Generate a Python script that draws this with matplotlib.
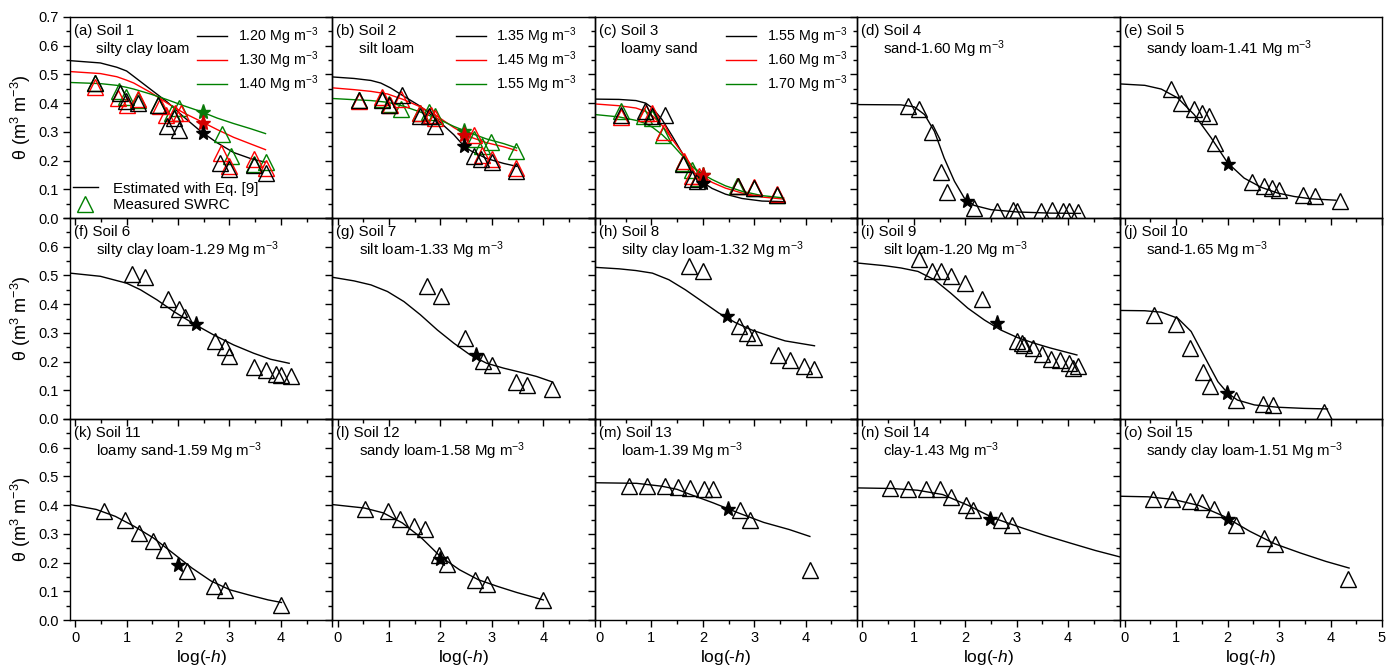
import matplotlib
matplotlib.use("Agg")
import matplotlib.pyplot as plt
from matplotlib.ticker import MultipleLocator, FixedLocator, FixedFormatter
from matplotlib.lines import Line2D

plt.rcParams['font.family'] = ['Liberation Sans', 'DejaVu Sans']
plt.rcParams['mathtext.fontset'] = 'custom'
plt.rcParams['mathtext.rm'] = 'Liberation Sans'
plt.rcParams['mathtext.it'] = 'Liberation Sans:italic'
plt.rcParams['mathtext.bf'] = 'Liberation Sans:bold'

# ---------------- Data ----------------
# Soil 1 (three bulk densities)
s1_cx = [-0.1, 0.49, 0.81, 1.0, 1.14, 1.46, 1.79, 2.11, 2.44, 2.76, 3.08, 3.41, 3.70]
s1_c120 = [0.548, 0.54, 0.525, 0.512, 0.493, 0.449, 0.404, 0.352, 0.302, 0.262, 0.228, 0.207, 0.194]
s1_c130 = [0.51, 0.503, 0.492, 0.48, 0.47, 0.438, 0.40, 0.366, 0.337, 0.308, 0.281, 0.258, 0.238]
s1_c140 = [0.472, 0.468, 0.462, 0.455, 0.449, 0.432, 0.412, 0.391, 0.371, 0.348, 0.329, 0.311, 0.294]
s1_mx_120 = [0.39, 0.88, 0.99, 1.23, 1.62, 1.79, 1.92, 2.01, 2.82, 2.99, 3.47, 3.71]
s1_my_120 = [0.47, 0.435, 0.406, 0.40, 0.395, 0.32, 0.348, 0.305, 0.19, 0.17, 0.186, 0.155]
s1_mx_130 = [0.39, 0.84, 1.0, 1.23, 1.64, 1.77, 1.95, 2.05, 2.84, 3.0, 3.47, 3.71]
s1_my_130 = [0.456, 0.418, 0.395, 0.414, 0.39, 0.36, 0.366, 0.366, 0.226, 0.18, 0.205, 0.174]
s1_mx_140 = [0.39, 0.86, 0.99, 1.23, 1.62, 1.88, 2.01, 2.86, 3.02, 3.47, 3.71]
s1_my_140 = [0.47, 0.441, 0.421, 0.412, 0.395, 0.366, 0.383, 0.294, 0.215, 0.189, 0.195]
s1_star_x = [2.48, 2.48, 2.48]
s1_star_y = [0.296, 0.331, 0.369]

# Soil 2
s2_cx_135 = [-0.08, 0.32, 0.65, 0.84, 1.03, 1.29, 1.61, 1.94, 2.26, 2.45, 2.58, 2.90, 3.23, 3.48]
s2_c135 = [0.491, 0.486, 0.479, 0.47, 0.453, 0.424, 0.389, 0.342, 0.29, 0.252, 0.235, 0.207, 0.19, 0.18]
s2_cx = [-0.08, 0.32, 0.65, 0.97, 1.29, 1.61, 1.94, 2.26, 2.58, 2.90, 3.23, 3.48]
s2_c145 = [0.453, 0.447, 0.441, 0.432, 0.412, 0.387, 0.354, 0.315, 0.282, 0.262, 0.248, 0.235]
s2_c155 = [0.416, 0.412, 0.409, 0.403, 0.389, 0.369, 0.346, 0.319, 0.296, 0.275, 0.259, 0.244]
s2_mx_135 = [0.41, 0.87, 1.0, 1.25, 1.61, 1.77, 1.9, 2.66, 2.79, 3.0, 3.47]
s2_my_135 = [0.412, 0.412, 0.395, 0.43, 0.354, 0.354, 0.32, 0.215, 0.205, 0.194, 0.163]
s2_mx_145 = [0.41, 0.86, 1.02, 1.23, 1.6, 1.81, 1.9, 2.66, 2.81, 3.0, 3.47]
s2_my_145 = [0.406, 0.421, 0.395, 0.414, 0.366, 0.36, 0.348, 0.29, 0.22, 0.205, 0.174]
s2_mx_155 = [0.41, 0.87, 1.0, 1.23, 1.61, 1.77, 1.9, 2.66, 2.81, 2.99, 3.47]
s2_my_155 = [0.41, 0.414, 0.398, 0.38, 0.366, 0.368, 0.356, 0.275, 0.25, 0.264, 0.235]
s2_star_x = [2.46, 2.46, 2.46]
s2_star_y = [0.252, 0.29, 0.302]

# Soil 3
s3_cx = [-0.08, 0.37, 0.70, 0.89, 1.02, 1.21, 1.41, 1.60, 1.79, 1.99, 2.18, 2.44, 2.76, 3.15, 3.57]
s3_c155 = [0.414, 0.413, 0.409, 0.40, 0.383, 0.342, 0.284, 0.226, 0.168, 0.125, 0.103, 0.083, 0.068, 0.059, 0.057]
s3_c160 = [0.397, 0.391, 0.383, 0.371, 0.356, 0.322, 0.273, 0.226, 0.18, 0.147, 0.124, 0.104, 0.087, 0.073, 0.066]
s3_c170 = [0.36, 0.352, 0.34, 0.329, 0.316, 0.29, 0.255, 0.217, 0.18, 0.153, 0.134, 0.112, 0.093, 0.078, 0.07]
s3_mx_155 = [0.41, 0.88, 1.01, 1.26, 1.62, 1.78, 1.89, 2.68, 3.0, 3.44]
s3_my_155 = [0.36, 0.371, 0.356, 0.36, 0.189, 0.136, 0.128, 0.11, 0.104, 0.081]
s3_mx_160 = [0.41, 0.89, 1.02, 1.25, 1.63, 1.79, 1.92, 2.68, 3.0, 3.44]
s3_my_160 = [0.352, 0.366, 0.366, 0.298, 0.197, 0.145, 0.147, 0.113, 0.107, 0.084]
s3_mx_170 = [0.41, 0.86, 1.01, 1.23, 1.62, 1.78, 1.91, 2.66, 2.99, 3.44]
s3_my_170 = [0.371, 0.354, 0.348, 0.29, 0.192, 0.168, 0.139, 0.11, 0.104, 0.081]
s3_star_x = [2.0, 2.0, 2.0]
s3_star_y = [0.122, 0.149, 0.15]

# Soil 4
s4_cx = [-0.1, 0.75, 1.01, 1.21, 1.40, 1.59, 1.79, 1.98, 2.17, 2.50, 3.01, 3.66, 4.24]
s4_cy = [0.395, 0.394, 0.387, 0.36, 0.302, 0.209, 0.128, 0.07, 0.044, 0.029, 0.021, 0.017, 0.016]
s4_mx = [0.88, 1.11, 1.35, 1.52, 1.65, 2.17, 2.61, 2.92, 3.01, 3.48, 3.69, 3.9, 4.01, 4.19]
s4_my = [0.389, 0.38, 0.298, 0.159, 0.089, 0.035, 0.026, 0.027, 0.026, 0.026, 0.027, 0.023, 0.023, 0.02]
s4_star = (2.03, 0.058)

# Soil 5
s5_cx = [-0.1, 0.39, 0.71, 1.03, 1.35, 1.68, 2.0, 2.32, 2.65, 2.97, 3.29, 3.61, 4.1]
s5_cy = [0.467, 0.462, 0.449, 0.418, 0.36, 0.279, 0.192, 0.139, 0.107, 0.087, 0.075, 0.067, 0.062]
s5_mx = [0.89, 1.1, 1.35, 1.5, 1.63, 1.75, 2.48, 2.71, 2.87, 3.0, 3.47, 3.69, 4.18]
s5_my = [0.449, 0.40, 0.38, 0.366, 0.354, 0.261, 0.124, 0.113, 0.104, 0.099, 0.081, 0.075, 0.058]
s5_star = (2.01, 0.189)

# Soil 6
s6_cx = [-0.1, 0.49, 1.0, 1.27, 1.59, 1.92, 2.31, 2.69, 3.08, 3.47, 3.8, 4.16]
s6_cy = [0.508, 0.497, 0.473, 0.45, 0.415, 0.374, 0.331, 0.293, 0.258, 0.229, 0.208, 0.194]
s6_mx = [1.1, 1.35, 1.81, 2.01, 2.14, 2.71, 2.92, 3.0, 3.47, 3.7, 3.9, 4.01, 4.19]
s6_my = [0.506, 0.494, 0.417, 0.383, 0.355, 0.273, 0.252, 0.22, 0.18, 0.169, 0.157, 0.153, 0.15]
s6_star = (2.34, 0.331)

# Soil 7
s7_cx = [-0.08, 0.32, 0.65, 0.97, 1.29, 1.61, 1.94, 2.26, 2.58, 2.9, 3.23, 3.55, 3.87, 4.16]
s7_cy = [0.493, 0.481, 0.467, 0.444, 0.409, 0.363, 0.31, 0.264, 0.223, 0.194, 0.177, 0.163, 0.148, 0.13]
s7_mx = [1.73, 2.02, 2.47, 2.83, 3.0, 3.47, 3.69, 4.17]
s7_my = [0.464, 0.427, 0.281, 0.202, 0.188, 0.13, 0.119, 0.105]
s7_star = (2.7, 0.223)

# Soil 8
s8_cx = [-0.08, 0.37, 0.7, 1.02, 1.34, 1.66, 1.99, 2.31, 2.63, 2.95, 3.28, 3.6, 4.17]
s8_cy = [0.528, 0.523, 0.517, 0.508, 0.485, 0.45, 0.409, 0.369, 0.336, 0.31, 0.29, 0.272, 0.255]
s8_mx = [1.73, 2.01, 2.7, 2.85, 3.0, 3.47, 3.7, 3.97, 4.17]
s8_my = [0.534, 0.514, 0.324, 0.301, 0.287, 0.223, 0.206, 0.186, 0.173]
s8_star = (2.47, 0.357)

# Soil 9
s9_cx = [-0.08, 0.43, 0.75, 1.08, 1.4, 1.72, 2.05, 2.37, 2.69, 3.01, 3.34, 3.66, 4.17]
s9_cy = [0.543, 0.534, 0.526, 0.514, 0.485, 0.438, 0.386, 0.345, 0.31, 0.284, 0.264, 0.247, 0.223]
s9_mx = [1.11, 1.35, 1.52, 1.72, 2.0, 2.32, 3.01, 3.11, 3.14, 3.32, 3.5, 3.67, 3.85, 4.01, 4.1, 4.19]
s9_my = [0.557, 0.517, 0.517, 0.497, 0.473, 0.417, 0.273, 0.264, 0.258, 0.249, 0.227, 0.208, 0.206, 0.194, 0.177, 0.185]
s9_star = (2.61, 0.336)

# Soil 10
s10_cx = [-0.08, 0.39, 0.71, 1.03, 1.29, 1.55, 1.81, 2.0, 2.19, 2.52, 2.97, 3.48, 3.94]
s10_cy = [0.378, 0.377, 0.372, 0.351, 0.305, 0.217, 0.13, 0.09, 0.066, 0.049, 0.041, 0.037, 0.035]
s10_mx = [0.56, 1.0, 1.27, 1.52, 1.66, 2.16, 2.68, 2.88, 3.87]
s10_my = [0.363, 0.331, 0.249, 0.163, 0.115, 0.066, 0.051, 0.049, 0.026]
s10_star = (1.99, 0.09)

# Soil 11
s11_cx = [-0.1, 0.41, 0.78, 1.15, 1.52, 1.9, 2.27, 2.64, 3.01, 3.38, 3.75, 4.01]
s11_cy = [0.402, 0.385, 0.361, 0.326, 0.286, 0.233, 0.181, 0.136, 0.105, 0.087, 0.07, 0.061]
s11_mx = [0.56, 0.97, 1.24, 1.52, 1.73, 2.18, 2.7, 2.92, 4.01]
s11_my = [0.379, 0.35, 0.303, 0.274, 0.245, 0.172, 0.119, 0.105, 0.052]
s11_star = (1.99, 0.192)

# Soil 12
s12_cx = [-0.1, 0.52, 0.89, 1.26, 1.63, 2.0, 2.37, 2.74, 3.11, 3.48, 4.0]
s12_cy = [0.402, 0.39, 0.373, 0.338, 0.286, 0.221, 0.175, 0.14, 0.117, 0.096, 0.07]
s12_mx = [0.53, 0.98, 1.22, 1.48, 1.7, 1.98, 2.13, 2.67, 2.9, 4.0]
s12_my = [0.387, 0.379, 0.352, 0.329, 0.317, 0.227, 0.196, 0.14, 0.126, 0.07]
s12_star = (2.0, 0.212)

# Soil 13
s13_cx = [-0.1, 0.71, 1.2, 1.5, 1.7, 2.2, 2.69, 3.18, 3.68, 4.08]
s13_cy = [0.478, 0.476, 0.466, 0.455, 0.441, 0.408, 0.373, 0.34, 0.315, 0.291]
s13_mx = [0.56, 0.91, 1.26, 1.52, 1.75, 2.02, 2.2, 2.72, 2.91, 4.08]
s13_my = [0.466, 0.466, 0.466, 0.463, 0.46, 0.457, 0.455, 0.382, 0.35, 0.175]
s13_star = (2.49, 0.387)

# Soil 14
s14_cx = [-0.1, 0.57, 1.07, 1.56, 2.06, 2.55, 3.05, 3.54, 4.04, 4.53, 5.0]
s14_cy = [0.46, 0.458, 0.452, 0.437, 0.399, 0.355, 0.324, 0.295, 0.268, 0.242, 0.22]
s14_mx = [0.54, 0.89, 1.24, 1.51, 1.73, 2.01, 2.16, 2.7, 2.9]
s14_my = [0.46, 0.457, 0.457, 0.455, 0.428, 0.402, 0.382, 0.35, 0.332]
s14_star = (2.49, 0.353)

# Soil 15
s15_cx = [-0.1, 0.45, 0.94, 1.44, 1.93, 2.43, 2.92, 3.42, 3.91, 4.36]
s15_cy = [0.431, 0.429, 0.42, 0.399, 0.361, 0.309, 0.265, 0.233, 0.204, 0.181]
s15_mx = [0.54, 0.91, 1.26, 1.51, 1.73, 2.16, 2.7, 2.92, 4.34]
s15_my = [0.422, 0.42, 0.416, 0.41, 0.385, 0.332, 0.286, 0.265, 0.142]
s15_star = (2.0, 0.353)

panel_letters = list("abcdefghijklmno")
soil_textures = ["silty clay loam", "silt loam", "loamy sand", "sand", "sandy loam",
                 "silty clay loam", "silt loam", "silty clay loam", "silt loam", "sand",
                 "loamy sand", "sandy loam", "loam", "clay", "sandy clay loam"]
soil_densities = [None, None, None, "1.60", "1.41", "1.29", "1.33", "1.32", "1.20", "1.65",
                  "1.59", "1.58", "1.39", "1.43", "1.51"]
multi_density_labels = [["1.20", "1.30", "1.40"], ["1.35", "1.45", "1.55"], ["1.55", "1.60", "1.70"]]
x_ticks = [0, 1, 2, 3, 4, 5]
y_ticks = [0.0, 0.1, 0.2, 0.3, 0.4, 0.5, 0.6, 0.7]

single_curves = [(s4_cx, s4_cy, s4_mx, s4_my, s4_star), (s5_cx, s5_cy, s5_mx, s5_my, s5_star),
                 (s6_cx, s6_cy, s6_mx, s6_my, s6_star), (s7_cx, s7_cy, s7_mx, s7_my, s7_star),
                 (s8_cx, s8_cy, s8_mx, s8_my, s8_star), (s9_cx, s9_cy, s9_mx, s9_my, s9_star),
                 (s10_cx, s10_cy, s10_mx, s10_my, s10_star), (s11_cx, s11_cy, s11_mx, s11_my, s11_star),
                 (s12_cx, s12_cy, s12_mx, s12_my, s12_star), (s13_cx, s13_cy, s13_mx, s13_my, s13_star),
                 (s14_cx, s14_cy, s14_mx, s14_my, s14_star), (s15_cx, s15_cy, s15_mx, s15_my, s15_star)]

multi_sets = [
    [(s1_cx, s1_c120, s1_mx_120, s1_my_120), (s1_cx, s1_c130, s1_mx_130, s1_my_130), (s1_cx, s1_c140, s1_mx_140, s1_my_140)],
    [(s2_cx_135, s2_c135, s2_mx_135, s2_my_135), (s2_cx, s2_c145, s2_mx_145, s2_my_145), (s2_cx, s2_c155, s2_mx_155, s2_my_155)],
    [(s3_cx, s3_c155, s3_mx_155, s3_my_155), (s3_cx, s3_c160, s3_mx_160, s3_my_160), (s3_cx, s3_c170, s3_mx_170, s3_my_170)],
]
multi_stars = [(s1_star_x, s1_star_y), (s2_star_x, s2_star_y), (s3_star_x, s3_star_y)]

# ---------------- Style ----------------
W, H = 1386, 665
fig = plt.figure(figsize=(W / 100, H / 100), dpi=100)
left_px, right_px = 70, 1382
top_px, row_h = 17, 201
col_w = (right_px - left_px) / 5
line_colors = ['black', '#ff0000', '#008000']
star_colors = ['black', '#d40000', '#0a7a0a']
TRI_MS = 11.5
STAR_MS = 11
FS = 10.8
LEG_FS = 10.3
TICK_FS = 10.5
legend_anchor_x = [0.485, 0.47, 0.50]

for idx in range(15):
    r, c = divmod(idx, 5)
    ax = fig.add_axes([(left_px + c * col_w) / W, 1 - (top_px + (r + 1) * row_h) / H,
                       col_w / W, row_h / H])
    ax.set_facecolor('none')
    ax.set_xlim(-0.1, 5.0)
    ax.set_ylim(0.0, 0.7)
    ax.xaxis.set_major_locator(FixedLocator(x_ticks))
    ax.xaxis.set_minor_locator(MultipleLocator(0.5))
    ax.yaxis.set_major_locator(FixedLocator(y_ticks))
    ax.yaxis.set_minor_locator(MultipleLocator(0.05))
    ax.tick_params(which='major', direction='out', length=5, width=1, labelsize=TICK_FS, pad=3,
                   top=False, right=False)
    ax.tick_params(which='minor', direction='out', length=3, width=1, top=False, right=False)
    for sp in ax.spines.values():
        sp.set_linewidth(1.0)

    # tick labels
    if r == 2:
        labs = [str(v) for v in x_ticks[:-1]] + (['5'] if c == 4 else [''])
        ax.xaxis.set_major_formatter(FixedFormatter(labs))
        ax.set_xlabel('log(-$h$)', fontsize=12.5, labelpad=2)
    else:
        ax.set_xticklabels([])
    if c == 0:
        ylabs = ['%.1f' % v for v in y_ticks]
        if r > 0:
            ylabs[-1] = ''
        ax.yaxis.set_major_formatter(FixedFormatter(ylabs))
        ax.set_ylabel(r'$\mathrm{\theta}$ (m$^{3}$ m$^{-3}$)', fontsize=13, labelpad=4)
    else:
        ax.set_yticklabels([])

    letter = panel_letters[idx]
    ax.text(0.015, 0.93, f'({letter}) Soil {idx + 1}', transform=ax.transAxes,
            fontsize=FS, va='center', ha='left')

    if idx < 3:
        ax.text(0.10, 0.842, soil_textures[idx], transform=ax.transAxes,
                fontsize=FS, va='center', ha='left')
        handles = []
        for k, (cx, cy, mx, my) in enumerate(multi_sets[idx]):
            ln, = ax.plot(cx, cy, color=line_colors[k], lw=1.0, zorder=2)
            handles.append(ln)
        for k in [2, 1, 0]:
            cx, cy, mx, my = multi_sets[idx][k]
            ax.plot(mx, my, linestyle='none', marker='^', ms=TRI_MS, mfc='none',
                    mec=line_colors[k], mew=1.0, zorder=3)
        sx, sy = multi_stars[idx]
        for k in [2, 1, 0]:
            ax.plot([sx[k]], [sy[k]], linestyle='none', marker='*', ms=STAR_MS,
                    color=star_colors[k], mec=star_colors[k], zorder=4)
        labels = [lab + ' Mg m$^{-3}$' for lab in multi_density_labels[idx]]
        leg = ax.legend(handles, labels, loc='upper left',
                        bbox_to_anchor=(legend_anchor_x[idx], 0.96),
                        frameon=False, fontsize=LEG_FS, handlelength=2.1, handletextpad=0.75,
                        labelspacing=0.18, borderpad=0.0, borderaxespad=0.0)
        if idx == 0:
            ax.add_artist(leg)
            h1 = Line2D([], [], color='black', lw=1.0)
            h2 = Line2D([], [], linestyle='none', marker='^', ms=TRI_MS, mfc='none',
                        mec='#008000', mew=1.0)
            ax.legend([h1, h2], ['Estimated with Eq. [9]', 'Measured SWRC'], loc='lower left',
                      bbox_to_anchor=(0.01, 0.03), frameon=False, fontsize=FS,
                      handlelength=1.7, handletextpad=1.0, labelspacing=0.15,
                      borderpad=0.0, borderaxespad=0.0)
    else:
        ax.text(0.10, 0.842, f'{soil_textures[idx]}-{soil_densities[idx]} Mg m$^{{-3}}$',
                transform=ax.transAxes, fontsize=FS, va='center', ha='left')
        cx, cy, mx, my, star = single_curves[idx - 3]
        ax.plot(cx, cy, color='black', lw=1.0, zorder=2)
        ax.plot(mx, my, linestyle='none', marker='^', ms=TRI_MS, mfc='none', mec='black',
                mew=1.0, zorder=3)
        ax.plot([star[0]], [star[1]], linestyle='none', marker='*', ms=STAR_MS,
                color='black', zorder=4)

fig.savefig('out.png', dpi=100)
